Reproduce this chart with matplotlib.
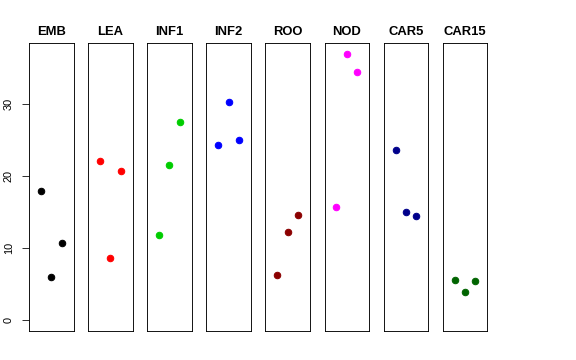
import matplotlib
matplotlib.use("Agg")
import matplotlib.pyplot as plt

plt.rcParams["font.family"] = ["Liberation Sans", "DejaVu Sans"]

groups = ["EMB", "LEA", "INF1", "INF2", "ROO", "NOD", "CAR5", "CAR15"]
colors = ["black", "red", "#00CD00", "blue", "#8B0000", "magenta", "#00008B", "#006400"]
values = [
    [18.0, 6.0, 10.8],
    [22.1, 8.7, 20.7],
    [11.9, 21.6, 27.6],
    [24.3, 30.3, 25.1],
    [6.3, 12.3, 14.6],
    [15.7, 37.0, 34.5],
    [23.6, 15.1, 14.5],
    [5.6, 3.9, 5.5],
]
reps = [1, 2, 3]

W, H = 576, 360
fig = plt.figure(figsize=(W / 72, H / 72), dpi=72)

ymax = max(max(v) for v in values)
pad = ymax * 0.04

for i, g in enumerate(groups):
    left = 29 + 59.1 * i
    ax = fig.add_axes([left / W, 1 - 331 / H, 44.5 / W, (331 - 43.3) / H])
    ax.plot(reps, values[i], "o", color=colors[i], markersize=6.5)
    ax.set_xlim(-0.16, 4.16)
    ax.set_ylim(-pad, ymax + pad)
    ax.set_xticks([])
    for s in ax.spines.values():
        s.set_linewidth(0.9)
    ax.set_title(g, fontsize=13, fontweight="bold", pad=8)
    if i == 0:
        ax.set_yticks([0, 10, 20, 30])
        ax.tick_params(axis="y", length=7, labelsize=11, pad=8, width=0.8)
        for lab in ax.get_yticklabels():
            lab.set_rotation(90)
            lab.set_va("center")
    else:
        ax.set_yticks([])

fig.savefig("out.png", dpi=72)
